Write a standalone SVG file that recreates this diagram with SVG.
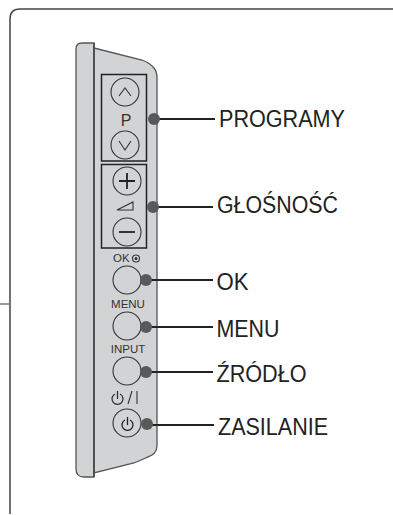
<svg xmlns="http://www.w3.org/2000/svg" width="393" height="515" viewBox="0 0 393 515">
<style>
.l{font-family:"Liberation Sans",Arial,sans-serif;font-size:23px;fill:#222}
.s{font-family:"Liberation Sans",Arial,sans-serif;fill:#333}
.b{fill:none;stroke:#333;stroke-width:1.100}
.d{fill:#58595b}
.ln{stroke:#222;stroke-width:2;fill:none}
</style>
<path d="M10 514V19Q10 9 20 9H393" fill="none" stroke="#444" stroke-width="1.500"/>
<path d="M0 304H10" stroke="#777" stroke-width="1.500"/>
<g id="panel">
<path d="M76 49Q76 43 82 43H94V477H84Q76 477 76 469Z" fill="#d1d3d4" stroke="#555" stroke-width="1.300"/>
<path d="M94 48L142 60Q150 63 154 68Q157 72 157 78V445Q157 452 152 455Q146 458 134 463L94 473Z" fill="#d1d3d4" stroke="#555" stroke-width="1.300"/>
<path d="M94 43V477" stroke="#444" stroke-width="1.500"/>
</g>
<g id="prog">
<rect x="101.500" y="74.500" width="45" height="86.500" fill="none" stroke="#222" stroke-width="1.500"/>
<circle cx="125" cy="92" r="14" class="b"/>
<path d="M119 96L125 88L131 96" class="b"/>
<text x="126" y="126" text-anchor="middle" font-size="16" class="s">P</text>
<circle cx="125" cy="145" r="14" class="b"/>
<path d="M119 141L125 150L131 141" class="b"/>
</g>
<g id="vol">
<rect x="101.500" y="164.500" width="45" height="83.500" fill="none" stroke="#222" stroke-width="1.500"/>
<circle cx="127" cy="181" r="14" class="b"/>
<path d="M119 181H135M127 173V189" fill="none" stroke="#222" stroke-width="1.800"/>
<path d="M117 210L133 202V210Z" class="b"/>
<circle cx="127" cy="232" r="14" class="b"/>
<path d="M119 232H135" fill="none" stroke="#222" stroke-width="1.800"/>
</g>
<g id="ok">
<text x="113" y="262" font-size="11.500" class="s">OK</text>
<circle cx="136" cy="258.500" r="3.500" class="b"/><circle cx="136" cy="258.500" r="1.500" fill="#333"/>
<circle cx="127" cy="280" r="14" class="b"/>
</g>
<g id="menu">
<text x="128" y="308" text-anchor="middle" font-size="11.500" class="s">MENU</text>
<circle cx="127" cy="326" r="14" class="b"/>
</g>
<g id="input">
<text x="128" y="353" text-anchor="middle" font-size="11.500" class="s">INPUT</text>
<circle cx="127" cy="371" r="14" class="b"/>
</g>
<g id="power">
<path d="M115 394A5.500 5.500 0 1 0 120 394M117.500 391V399" fill="none" stroke="#333" stroke-width="1.300"/>
<path d="M132 391L128 404M137 391V404" fill="none" stroke="#333" stroke-width="1.100"/>
<circle cx="127" cy="423" r="14" class="b"/>
<path d="M125 420A5.500 5.500 0 1 0 130 420M127.500 417V425" fill="none" stroke="#222" stroke-width="1.300"/>
</g>
<g id="connectors">
<path d="M154 119H215M153 207H213M146 280H213M146 327H213M146 372H213M147 425H214" class="ln"/>
<circle cx="154" cy="119" r="6" class="d"/><circle cx="153" cy="207" r="6" class="d"/>
<circle cx="146" cy="280" r="6" class="d"/><circle cx="146" cy="327" r="6" class="d"/>
<circle cx="146" cy="372" r="6" class="d"/><circle cx="147" cy="424" r="6" class="d"/>
</g>
<g id="labels">
<text x="219" y="127" class="l" textLength="126" lengthAdjust="spacingAndGlyphs">PROGRAMY</text>
<text x="217" y="213" class="l" textLength="121" lengthAdjust="spacingAndGlyphs">GŁOŚNOŚĆ</text>
<text x="216.500" y="290" class="l" textLength="32" lengthAdjust="spacingAndGlyphs">OK</text>
<text x="216.500" y="337" class="l" textLength="63" lengthAdjust="spacingAndGlyphs">MENU</text>
<text x="216.500" y="382" class="l" textLength="90" lengthAdjust="spacingAndGlyphs">ŹRÓDŁO</text>
<text x="218" y="435" class="l" textLength="110" lengthAdjust="spacingAndGlyphs">ZASILANIE</text>
</g>
</svg>
